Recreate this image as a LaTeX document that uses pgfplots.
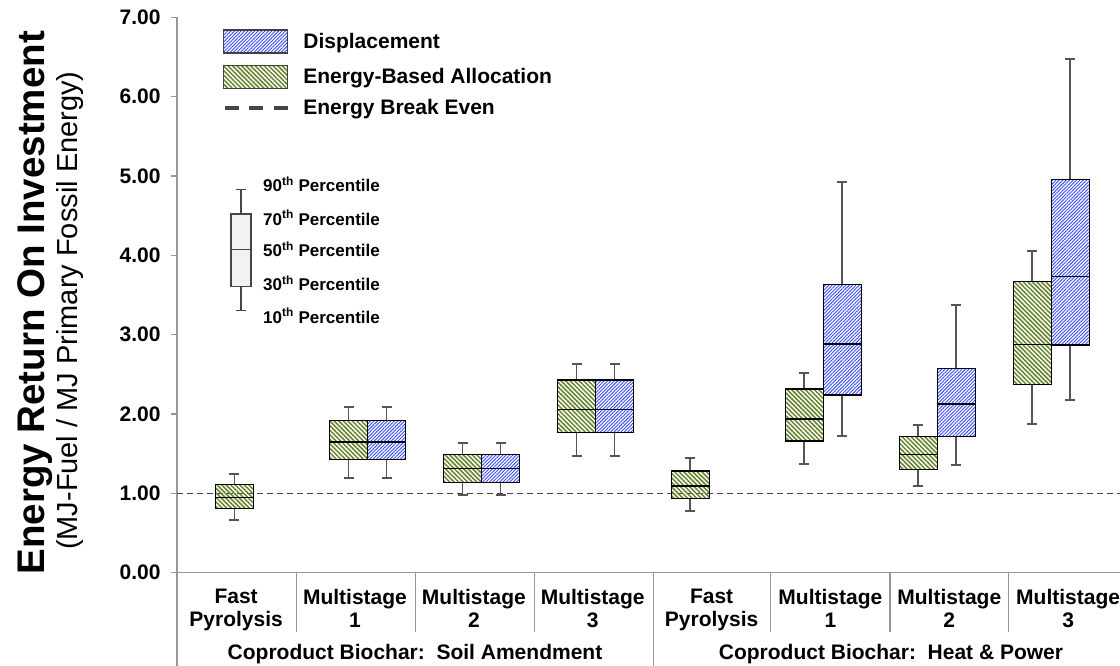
\documentclass[border=0pt]{standalone}
\usepackage{pgfplots}
\pgfplotsset{compat=1.18}
\usepgfplotslibrary{statistics}
\usepackage{fontspec}
\setmainfont{Liberation Sans}
\usetikzlibrary{patterns.meta}
\definecolor{gpat}{RGB}{100,130,40}
\definecolor{bpat}{RGB}{55,75,250}
\definecolor{wgray}{RGB}{85,85,85}
\definecolor{axgray}{RGB}{150,150,150}
\definecolor{dgray}{RGB}{70,70,70}
\newcommand\lbl{\fontsize{21pt}{23pt}\selectfont\bfseries}
\newcommand\pct{\fontsize{17pt}{19pt}\selectfont\bfseries}
\pgfplotsset{
  bx/.style={forget plot, boxplot/draw direction=y, boxplot/box extend=38,
    boxplot/whisker extend=10, solid, draw=black, line width=1.3pt,
    boxplot/every whisker/.style={draw=wgray, line width=1.8pt},
    boxplot/every median/.style={draw=black, line width=1.3pt}},
  greenbox/.style={bx, boxplot/every box/.style={pattern={Lines[angle=-45,distance=3.2pt,line width=1.5pt]}, pattern color=gpat}},
  bluebox/.style={bx, boxplot/every box/.style={pattern={Lines[angle=45,distance=2.4pt,line width=0.9pt]}, pattern color=bpat}},
  patch/.style={legend image code/.code={\draw[##1] (0pt,-11.5pt) rectangle (64pt,11.5pt);}},
  dline/.style={legend image code/.code={%
    \fill[dgray] (1pt,-1.5pt) rectangle (14pt,1.5pt);
    \fill[dgray] (25pt,-1.5pt) rectangle (38pt,1.5pt);
    \fill[dgray] (50pt,-1.5pt) rectangle (63pt,1.5pt);}},
}
\begin{document}
\begin{tikzpicture}
\useasboundingbox (-177pt,-93.3pt) rectangle (943pt,572.7pt);
\begin{axis}[
  scale only axis, width=943pt, height=555.5pt,
  xmin=177, xmax=1120, ymin=0, ymax=7,
  axis x line=bottom, axis y line=left,
  axis line style={draw=axgray, line width=1.2pt, -},
  ytick={0,1,...,7},
  yticklabel style={font=\lbl, xshift=-7pt},
  y tick label style={/pgf/number format/fixed, /pgf/number format/fixed zerofill, /pgf/number format/precision=2, /pgf/number format/assume math mode=true},
  xtick={236.1,355.0,473.9,592.7,711.6,830.4,949.3,1068.1},
  xticklabels={{Fast\\Pyrolysis},{Multistage\\1},{Multistage\\2},{Multistage\\3},{Fast\\Pyrolysis},{Multistage\\1},{Multistage\\2},{Multistage\\3}},
  xticklabel style={font=\lbl, align=center, yshift=-7pt},
  x tick style={draw=none}, y tick style={draw=axgray, line width=1.2pt},
  tick align=outside, major tick length=6pt,
  clip=false,
  legend style={at={(axis cs:223,6.85)}, anchor=north west, draw=none, fill=none,
    inner sep=0pt, row sep=11pt, column sep=15pt, font=\lbl, nodes={inner sep=0pt}},
  legend cell align=left,
]
\addlegendimage{patch, draw=black!75, line width=1.2pt, pattern={Lines[angle=45,distance=2.4pt,line width=0.9pt]}, pattern color=bpat}
\addlegendentry{Displacement}
\addlegendimage{patch, draw=black!75, line width=1.2pt, pattern={Lines[angle=-45,distance=3.2pt,line width=1.5pt]}, pattern color=gpat}
\addlegendentry{Energy-Based Allocation}
\addlegendimage{dline}
\addlegendentry{Energy Break Even}

% break even line
\addplot[forget plot, dgray, line width=1.5pt, dash pattern=on 6pt off 4pt] coordinates {(177,1) (1120,1)};

% Soil amendment
\addplot[greenbox, boxplot prepared={draw position=234.5, lower whisker=0.66, lower quartile=0.807, median=0.95, upper quartile=1.109, upper whisker=1.24}] coordinates {};
\addplot[greenbox, boxplot prepared={draw position=348.5, lower whisker=1.197, lower quartile=1.429, median=1.647, upper quartile=1.916, upper whisker=2.09}] coordinates {};
\addplot[bluebox, boxplot prepared={draw position=386.5, lower whisker=1.197, lower quartile=1.429, median=1.647, upper quartile=1.916, upper whisker=2.09}] coordinates {};
\addplot[greenbox, boxplot prepared={draw position=462.5, lower whisker=0.983, lower quartile=1.139, median=1.311, upper quartile=1.487, upper whisker=1.635}] coordinates {};
\addplot[bluebox, boxplot prepared={draw position=500.5, lower whisker=0.983, lower quartile=1.139, median=1.311, upper quartile=1.487, upper whisker=1.635}] coordinates {};
\addplot[greenbox, boxplot prepared={draw position=576.5, lower whisker=1.474, lower quartile=1.769, median=2.054, upper quartile=2.428, upper whisker=2.63}] coordinates {};
\addplot[bluebox, boxplot prepared={draw position=614.5, lower whisker=1.474, lower quartile=1.769, median=2.054, upper quartile=2.428, upper whisker=2.63}] coordinates {};
% Heat & power
\addplot[greenbox, boxplot prepared={draw position=690.3, lower whisker=0.778, lower quartile=0.937, median=1.093, upper quartile=1.282, upper whisker=1.442}] coordinates {};
\addplot[greenbox, boxplot prepared={draw position=804.3, lower whisker=1.374, lower quartile=1.66, median=1.937, upper quartile=2.315, upper whisker=2.517}] coordinates {};
\addplot[bluebox, boxplot prepared={draw position=842.3, lower whisker=1.719, lower quartile=2.239, median=2.882, upper quartile=3.634, upper whisker=4.924}] coordinates {};
\addplot[greenbox, boxplot prepared={draw position=918.3, lower whisker=1.093, lower quartile=1.298, median=1.492, upper quartile=1.719, upper whisker=1.861}] coordinates {};
\addplot[bluebox, boxplot prepared={draw position=956.3, lower whisker=1.357, lower quartile=1.719, median=2.126, upper quartile=2.571, upper whisker=3.374}] coordinates {};
\addplot[greenbox, boxplot prepared={draw position=1032.3, lower whisker=1.878, lower quartile=2.374, median=2.878, upper quartile=3.672, upper whisker=4.054}] coordinates {};
\addplot[bluebox, boxplot prepared={draw position=1070.3, lower whisker=2.173, lower quartile=2.87, median=3.735, upper quartile=4.953, upper whisker=6.474}] coordinates {};

% percentile key
\addplot[forget plot, boxplot/draw direction=y, boxplot/box extend=20, boxplot/whisker extend=10,
  draw=dgray, line width=1.1pt, boxplot/every box/.style={fill=gray!10},
  boxplot prepared={draw position=241, lower whisker=3.302, lower quartile=3.609, median=4.076, upper quartile=4.52, upper whisker=4.834}] coordinates {};
\node[anchor=west, font=\pct, inner sep=0pt] at (axis cs:263,4.895) {90\textsuperscript{th} Percentile};
\node[anchor=west, font=\pct, inner sep=0pt] at (axis cs:263,4.474) {70\textsuperscript{th} Percentile};
\node[anchor=west, font=\pct, inner sep=0pt] at (axis cs:263,4.076) {50\textsuperscript{th} Percentile};
\node[anchor=west, font=\pct, inner sep=0pt] at (axis cs:263,3.647) {30\textsuperscript{th} Percentile};
\node[anchor=west, font=\pct, inner sep=0pt] at (axis cs:263,3.239) {10\textsuperscript{th} Percentile};
\end{axis}
% separators
\foreach \x in {119.7,238.7,357.3,593.7,713,831.7} \draw[axgray, line width=1.2pt] (\x pt,0) -- (\x pt,-59.3pt);
\foreach \x in {0,476.3} \draw[axgray, line width=1.2pt] (\x pt,0) -- (\x pt,-93.3pt);
% group labels
\node[anchor=base, font=\lbl] at (238pt,-86.8pt) {Coproduct Biochar:\ \ Soil Amendment};
\node[anchor=base, font=\lbl] at (714pt,-86.8pt) {Coproduct Biochar:\ \ Heat \& Power};
% y title
\node[rotate=90, anchor=base, inner sep=0pt, font=\fontsize{38.5pt}{40pt}\selectfont\bfseries] at (-132pt,270pt) {Energy Return On Investment};
\node[rotate=90, anchor=base, inner sep=0pt, font=\fontsize{29pt}{30pt}\selectfont] at (-99pt,262pt) {(MJ-Fuel / MJ Primary Fossil Energy)};
\end{tikzpicture}
\end{document}
